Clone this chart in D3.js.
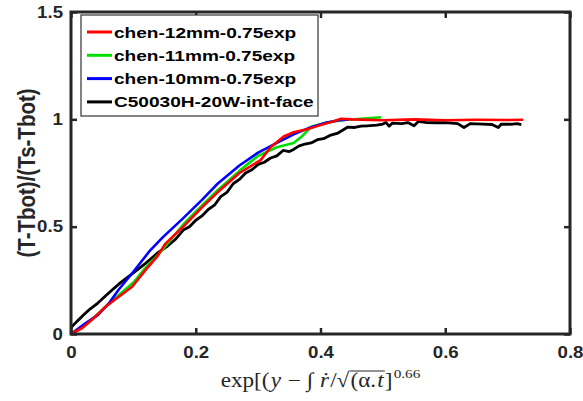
<!DOCTYPE html>
<html lang="en">
  <head>
    <meta charset="UTF-8">
    <title>Temperature profile</title>
    <script src="https://cdn.jsdelivr.net/npm/d3@7"></script>
    <style>
      body { margin: 0; background: #fff; }
      text { font-family: "Liberation Sans", Arial, sans-serif; }
      .tick-label { font-size: 16.5px; font-weight: bold; fill: #262626; }
      .legend-label { font-size: 15.5px; font-weight: bold; fill: #000; }
      .math { font-family: "Liberation Serif", "DejaVu Serif", serif; font-size: 20.5px; fill: #262626; white-space: pre; }
    </style>
  </head>
  <body>
    <svg id="chart"></svg>
    <script>
      // series: [x, y]
      var red12 = [[0,0],[0.018,0.028],[0.035,0.07],[0.055,0.126],[0.075,0.17],[0.098,0.22],[0.12,0.3],
        [0.138,0.36],[0.151,0.42],[0.18,0.5],[0.21,0.59],[0.235,0.66],[0.27,0.75],[0.304,0.81],[0.32,0.87],
        [0.341,0.92],[0.357,0.94],[0.38,0.955],[0.4,0.973],[0.42,0.99],[0.433,1.003],[0.45,1.0],[0.5,0.996],
        [0.55,1.0],[0.6,0.996],[0.65,0.998],[0.7,0.997],[0.725,0.998]];
      var green11 = [[0,0],[0.02,0.035],[0.04,0.085],[0.06,0.14],[0.08,0.19],[0.1,0.24],[0.12,0.31],
        [0.14,0.37],[0.16,0.44],[0.18,0.51],[0.2,0.57],[0.235,0.67],[0.27,0.76],[0.3,0.83],[0.33,0.87],
        [0.357,0.89],[0.37,0.92],[0.385,0.965],[0.41,0.985],[0.438,0.997],[0.47,1.004],[0.497,1.01]];
      var blue10 = [[0,0],[0.023,0.05],[0.043,0.088],[0.06,0.14],[0.076,0.205],[0.1,0.29],[0.127,0.39],
        [0.147,0.45],[0.18,0.54],[0.21,0.625],[0.235,0.7],[0.27,0.785],[0.3,0.845],[0.33,0.89],[0.357,0.93],
        [0.38,0.958],[0.41,0.985],[0.43,0.996],[0.445,1.0]];
      var blackExp = [[0,0.03],[0.01,0.06],[0.02,0.088],[0.03,0.115],[0.043,0.144],[0.06,0.19],[0.079,0.238],
        [0.1,0.285],[0.12,0.33],[0.14,0.38],[0.155,0.41],[0.167,0.44],[0.18,0.484],[0.19,0.5],[0.2,0.53],
        [0.21,0.55],[0.22,0.58],[0.23,0.6],[0.24,0.64],[0.25,0.66],[0.26,0.7],[0.27,0.72],[0.28,0.75],
        [0.29,0.765],[0.3,0.79],[0.31,0.8],[0.32,0.82],[0.33,0.83],[0.34,0.855],[0.35,0.85],[0.357,0.86],
        [0.365,0.875],[0.375,0.885],[0.385,0.89],[0.395,0.905],[0.405,0.91],[0.415,0.925],[0.428,0.936],
        [0.436,0.95],[0.444,0.964],[0.455,0.962],[0.465,0.968],[0.475,0.97],[0.49,0.973],[0.5,0.978],
        [0.505,0.985],[0.51,0.968],[0.515,0.982],[0.53,0.98],[0.54,0.985],[0.55,0.97],[0.557,0.99],
        [0.57,0.985],[0.585,0.984],[0.6,0.985],[0.62,0.98],[0.63,0.962],[0.64,0.98],[0.66,0.978],
        [0.675,0.976],[0.685,0.962],[0.69,0.978],[0.705,0.977],[0.715,0.98],[0.722,0.975]];

      var seriesNames = ["chen-12mm-0.75exp", "chen-11mm-0.75exp", "chen-10mm-0.75exp", "C50030H-20W-int-face"];
      var seriesColors = ["#ff0000", "#00e000", "#0000ff", "#000000"];
      var seriesData = [red12, green11, blue10, blackExp];
      var xTicks = [0, 0.2, 0.4, 0.6, 0.8];
      var yTicks = [0, 0.5, 1, 1.5];

      var width = 583, height = 401;
      var margin = { top: 12, right: 13, bottom: 67, left: 71 };
      var stretch = 1.13; // the source figure is widened, text included

      var svg = d3.select("#chart")
        .attr("width", width)
        .attr("height", height);

      var x = d3.scaleLinear().domain([0, 0.8]).range([margin.left, width - margin.right]);
      var y = d3.scaleLinear().domain([0, 1.5]).range([height - margin.bottom, margin.top]);

      // curves (drawn in this order so red ends up on top like the original)
      var line = d3.line()
        .x(function(d) { return x(d[0]); })
        .y(function(d) { return y(d[1]); });

      var plot = svg.append("g");
      [3, 1, 2, 0].forEach(function(i) {
        plot.append("path")
          .datum(seriesData[i])
          .attr("fill", "none")
          .attr("stroke", seriesColors[i])
          .attr("stroke-width", i === 3 ? 2.8 : 2.6)
          .attr("stroke-linejoin", "round")
          .attr("d", line);
      });

      // axes with inward ticks, on all four sides
      var frameColor = "#262626";
      function styleAxis(g) {
        g.select(".domain").remove();
        g.selectAll(".tick line").attr("stroke", frameColor).attr("stroke-width", 2.5);
        g.selectAll(".tick text").each(function() {
          var t = d3.select(this);
          var tx = +t.attr("x") || 0, ty = +t.attr("y") || 0;
          t.attr("class", "tick-label")
            .attr("x", 0).attr("y", 0)
            .attr("transform", "translate(" + tx + "," + ty + ") scale(" + stretch + ",1)");
        });
      }

      svg.append("g")
        .attr("transform", "translate(0," + y(0) + ")")
        .call(d3.axisBottom(x).tickValues(xTicks).tickSize(-6).tickPadding(12).tickFormat(d3.format("")))
        .call(styleAxis);

      svg.append("g")
        .attr("transform", "translate(" + x(0) + ",0)")
        .call(d3.axisLeft(y).tickValues(yTicks).tickSize(-6).tickPadding(8).tickFormat(d3.format("")))
        .call(styleAxis);

      svg.append("g")
        .attr("transform", "translate(0," + y(1.5) + ")")
        .call(d3.axisTop(x).tickValues(xTicks).tickSize(-6).tickFormat(""))
        .call(styleAxis);

      svg.append("g")
        .attr("transform", "translate(" + x(0.8) + ",0)")
        .call(d3.axisRight(y).tickValues(yTicks).tickSize(-6).tickFormat(""))
        .call(styleAxis);

      svg.append("rect")
        .attr("x", x(0))
        .attr("y", y(1.5))
        .attr("width", x(0.8) - x(0))
        .attr("height", y(0) - y(1.5))
        .attr("fill", "none")
        .attr("stroke", frameColor)
        .attr("stroke-width", 3);

      // y label
      svg.append("text")
        .attr("class", "tick-label")
        .style("font-size", "20.5px")
        .attr("transform", "translate(35," + y(0.75) + ") rotate(-90) scale(1," + stretch + ")")
        .attr("text-anchor", "middle")
        .text("(T-Tbot)/(Ts-Tbot)");

      // x label: math pieces laid out one after another
      var pieces = [
        { t: "exp[(" },
        { t: "y", italic: true },
        { t: " \u2212 \u222B " },
        { t: "\u1E59", italic: true },
        { t: "/\u221A" },
        { t: "(\u03B1.", over: true },
        { t: "t", italic: true, over: true },
        { t: "]" },
        { t: "0.66", sup: true }
      ];
      var lab = svg.append("g");
      var inner = lab.append("g");
      var cx = 0, overStart = null, overEnd = 0;
      pieces.forEach(function(p) {
        var t = inner.append("text")
          .attr("class", "math")
          .attr("x", cx)
          .attr("y", p.sup ? -9 : 0)
          .style("font-size", p.sup ? "13.5px" : null)
          .style("font-style", p.italic ? "italic" : null)
          .text(p.t);
        var w = t.node().getComputedTextLength();
        if (p.over) {
          if (overStart === null) overStart = cx;
          overEnd = cx + w;
        }
        cx += w + (p.sup ? 0 : 1);
      });
      inner.append("line")
        .attr("x1", overStart - 1).attr("x2", overEnd + 1)
        .attr("y1", -16).attr("y2", -16)
        .attr("stroke", "#262626").attr("stroke-width", 1);
      inner.attr("transform", "scale(" + stretch + ",1)");
      lab.attr("transform", "translate(" + ((x(0) + x(0.8)) / 2 - cx * stretch / 2) + ",387)");

      // legend
      var legend = svg.append("g").attr("transform", "translate(81,15)");
      legend.append("rect")
        .attr("width", 237)
        .attr("height", 101)
        .attr("fill", "#fff")
        .attr("stroke", "#333")
        .attr("stroke-width", 1.2);
      seriesNames.forEach(function(name, i) {
        var ry = 17 + i * 23.3;
        legend.append("line")
          .attr("x1", 6).attr("x2", 31)
          .attr("y1", ry).attr("y2", ry)
          .attr("stroke", seriesColors[i])
          .attr("stroke-width", 3);
        legend.append("text")
          .attr("class", "legend-label")
          .attr("transform", "translate(33," + (ry + 5.5) + ") scale(1.23,1)")
          .text(name);
      });
    </script>
  </body>
</html>
